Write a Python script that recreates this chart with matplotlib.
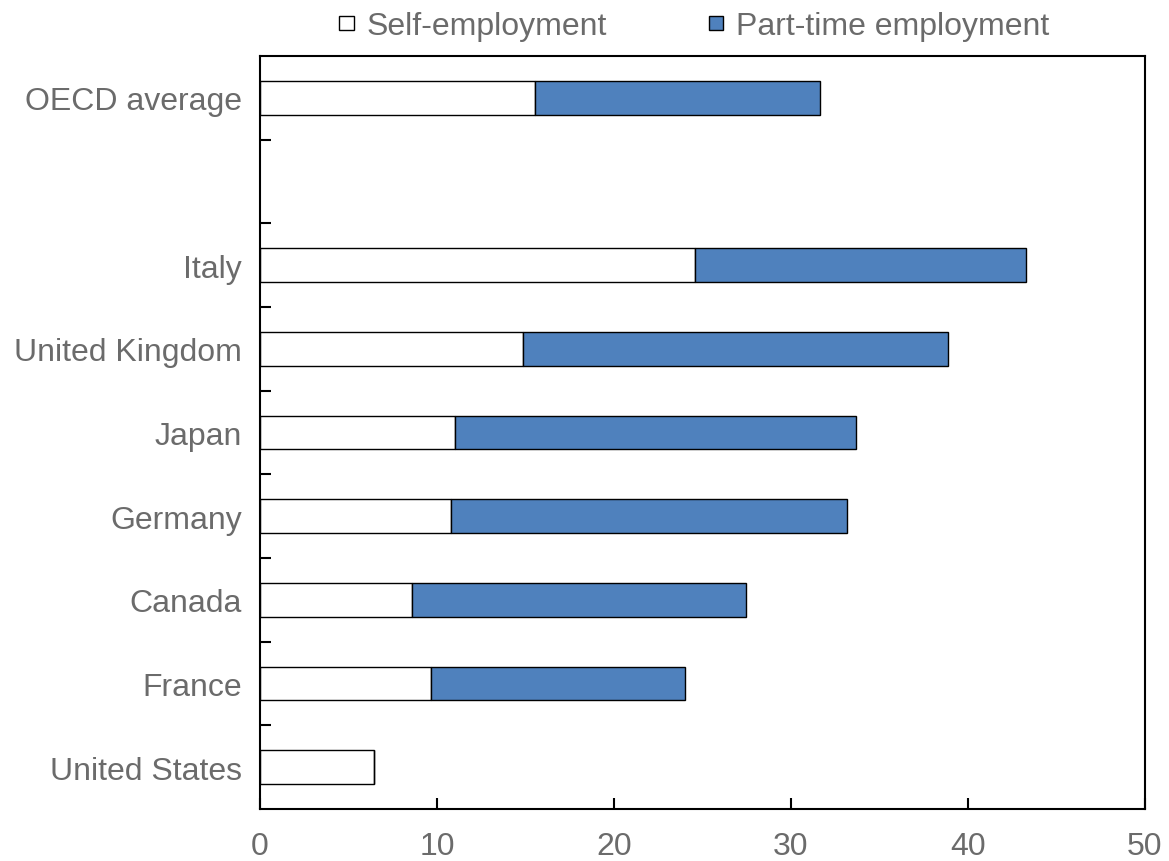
import matplotlib
matplotlib.use("Agg")
import matplotlib.pyplot as plt
import numpy as np

categories = ["United States", "France", "Canada", "Germany", "Japan",
              "United Kingdom", "Italy", "", "OECD average"]
self_employment = [6.45, 9.65, 8.6, 10.8, 11.0, 14.85, 24.6, np.nan, 15.55]
part_time = [0.0, 14.35, 18.85, 22.35, 22.65, 24.0, 18.65, np.nan, 16.1]

plt.rcParams['font.family'] = ['Liberation Sans', 'DejaVu Sans']
text_color = '#6b6b6b'

fig = plt.figure(figsize=(11.69, 8.62), dpi=100)
ax = fig.add_axes([260/1169, 1-810/862, 885/1169, 753/862])

y = np.arange(len(categories))
se = np.array(self_employment)
pt = np.array(part_time)
ax.barh(y, se, height=0.4, color='white', edgecolor='black', linewidth=1.0,
        label='Self-employment')
ax.barh(y, pt, left=se, height=0.4, color='#4f81bd', edgecolor='black',
        linewidth=1.0, label='Part-time employment')

ax.set_xlim(0, 50)
ax.set_ylim(-0.5, len(categories) - 0.5)
ax.set_xticks([0, 10, 20, 30, 40, 50])
ax.set_yticks(y)
ax.set_yticklabels(categories)
ax.set_yticks(np.arange(0.5, len(categories) - 1, 1), minor=True)
ax.tick_params(axis='y', which='major', length=0, pad=13, labelsize=23,
               labelcolor=text_color)
ax.tick_params(axis='y', which='minor', direction='in', length=8, width=1.5)
ax.tick_params(axis='x', direction='in', length=8, width=1.5, pad=16,
               labelsize=23, labelcolor=text_color)
for s in ax.spines.values():
    s.set_linewidth(1.5)

leg = fig.legend(loc='upper center', bbox_to_anchor=(0.594, 1.019), ncol=2,
                 frameon=False, fontsize=23, handlelength=0.45,
                 handleheight=0.32, handletextpad=0.4, columnspacing=3.2,
                 labelcolor=text_color)

fig.savefig('out.png', dpi=100)
